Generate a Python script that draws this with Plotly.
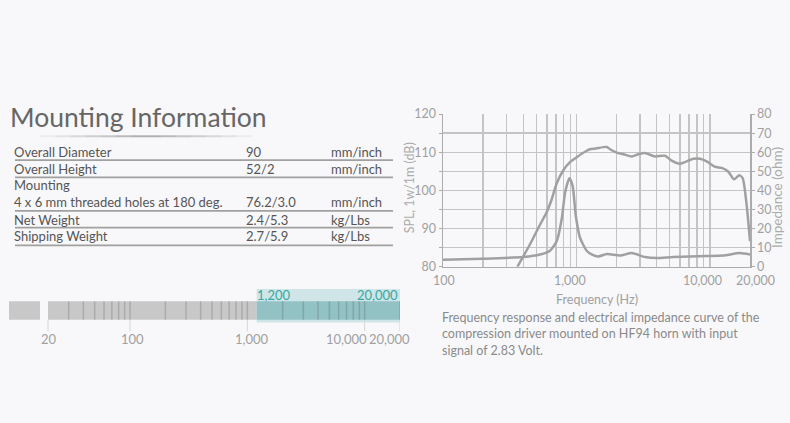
import math
import plotly.graph_objects as go

# ---------------- data ----------------
spec_labels = ["Overall Diameter", "Overall Height", "Mounting",
               "4 x 6 mm threaded holes at 180 deg.", "Net Weight", "Shipping Weight"]
spec_values = ["90", "52/2", "", "76.2/3.0", "2.4/5.3", "2.7/5.9"]
spec_units = ["mm/inch", "mm/inch", "", "mm/inch", "kg/Lbs", "kg/Lbs"]
spec_underlined = [True, True, False, True, True, True]

spl_freq = [361, 449, 533, 598, 653, 712, 798, 895, 1004, 1194, 1264, 1400, 1687, 1786,
            2006, 2250, 2600, 2911, 3270, 3882, 4613, 5179, 5980, 7520, 8446, 9475,
            10940, 12280, 13770, 15180, 16640, 17640, 18900, 20000]
spl_db = [80.0, 85.9, 91.0, 94.3, 97.7, 101.9, 105.3, 107.4, 108.7, 110.4, 110.8, 111.0, 111.4, 110.8,
          109.9, 109.5, 108.9, 109.5, 109.8, 108.9, 109.1, 107.8, 107.0, 108.3, 108.3, 107.6,
          106.2, 105.9, 104.9, 102.9, 104.0, 103.2, 96.0, 86.7]

imp_freq = [100, 200, 400, 533, 634, 712, 777, 822, 886, 938, 988, 1064, 1194, 1300,
            1460, 1687, 2130, 2600, 3270, 4000, 5300, 9475, 12600, 16800, 20000]
imp_ohm = [3.7, 4.2, 5.1, 6.4, 8.4, 13.5, 25.3, 38.8, 46.4, 42.2, 27.0, 15.2, 8.4, 6.5,
           5.4, 6.7, 5.9, 7.2, 5.1, 4.6, 5.1, 5.6, 5.9, 7.2, 6.4]

chart_grid_freqs = [100, 200, 300, 400, 500, 600, 700, 800, 900, 1000, 2000, 3000, 4000,
                    5000, 6000, 7000, 8000, 9000, 10000, 20000]
chart_xlabels_vals = [100, 1000, 10000, 20000]
chart_xlabels_text = ["100", "1,000", "10,000", "20,000"]
spl_ticks = [80, 85, 90, 95, 100, 105, 110, 115, 120]
spl_ticktext = ["80", "", "90", "", "100", "", "110", "", "120"]
imp_ticks = [0, 10, 20, 30, 40, 50, 60, 70, 80]

band_seg_start = [9.3, 20]
band_seg_end = [17.1, 20000]
band_hl_start = 1200
band_hl_end = 20000
band_hl_labels = ["1,200", "20,000"]
band_grid = [30, 40, 50, 60, 70, 80, 90, 100, 200, 300, 400, 500, 600, 700, 800, 900,
             1000, 2000, 3000, 4000, 5000, 6000, 7000, 8000, 9000, 10000, 20000]
band_label_vals = [20, 100, 1000, 10000, 20000]
band_label_text = ["20", "100", "1,000", "10,000", "20,000"]

caption_lines = ["Frequency response and electrical impedance curve of the",
                 "compression driver mounted on HF94 horn with input",
                 "signal of 2.83 Volt."]

# ---------------- layout helpers ----------------
W, H = 790, 423
BG = "#f8f8fa"
FONT = "Lato"


def px(x):
    return x / W


def py(y):
    return 1 - y / H


fig = go.Figure()

# main chart traces
fig.add_trace(go.Scatter(x=spl_freq, y=spl_db, mode="lines", xaxis="x", yaxis="y",
                         line=dict(color="#a0a0a0", width=2.5, shape="spline", smoothing=0.6),
                         hoverinfo="skip", showlegend=False))
fig.add_trace(go.Scatter(x=imp_freq, y=imp_ohm, mode="lines", xaxis="x", yaxis="y2",
                         line=dict(color="#a0a0a0", width=2.5, shape="spline", smoothing=0.6),
                         hoverinfo="skip", showlegend=False))

# band bar (bottom-left)
BAR_Y0, BAR_Y1 = 0.077, 0.629


def rect(x0, x1, y0, y1, color):
    fig.add_trace(go.Scatter(x=[x0, x1, x1, x0, x0], y=[y0, y0, y1, y1, y0], mode="lines",
                             fill="toself", fillcolor=color, line=dict(width=0),
                             xaxis="x2", yaxis="y3", hoverinfo="skip", showlegend=False))


rect(band_hl_start, band_hl_end, 0, 1, "#d0e5e7")
for s, e in zip(band_seg_start, band_seg_end):
    rect(s, min(e, band_hl_start), BAR_Y0, BAR_Y1, "#c8c8c8")
rect(band_hl_start, band_hl_end, BAR_Y0, BAR_Y1, "#93c2c4")

gx, gy = [], []
for v in band_grid:
    gx += [v, v, None]
    gy += [BAR_Y0, BAR_Y1, None]
fig.add_trace(go.Scatter(x=gx, y=gy, mode="lines", line=dict(color="rgba(70,70,70,0.22)", width=1.5),
                         xaxis="x2", yaxis="y3", hoverinfo="skip", showlegend=False))
tx, ty = [], []
for v in band_label_vals:
    tx += [v, v, None]
    ty += [BAR_Y0, -0.26, None]
fig.add_trace(go.Scatter(x=tx, y=ty, mode="lines", line=dict(color="#d6d6d6", width=1),
                         xaxis="x2", yaxis="y3", hoverinfo="skip", showlegend=False))

annotations = []
shapes = []

# title
annotations.append(dict(text="Mounting Information", x=px(8), y=py(113), xref="paper", yref="paper",
                        xanchor="left", yanchor="middle", showarrow=False,
                        font=dict(family=FONT, size=26.5, color="#666666")))
# gradient underline of title
n_seg = 14
x_start, x_end = 40, 252
for i in range(n_seg):
    t = (i + 0.5) / n_seg
    a = 0.55 * (1 - abs(2 * t - 1)) + 0.05
    shapes.append(dict(type="line", xref="paper", yref="paper",
                       x0=px(x_start + (x_end - x_start) * i / n_seg),
                       x1=px(x_start + (x_end - x_start) * (i + 1) / n_seg),
                       y0=py(133), y1=py(133),
                       line=dict(color=f"rgba(120,120,120,{a:.2f})", width=2)))

# table
row_y = [149, 167, 184, 201.3, 219.7, 236.3]
line_y = [157.7, 175.7, None, 210.3, 227.7, 246]
for lab, val, unit, ul, yc, ly in zip(spec_labels, spec_values, spec_units, spec_underlined, row_y, line_y):
    for txt, xx in ((lab, 12), (val, 244), (unit, 329)):
        if txt:
            annotations.append(dict(text=txt, x=px(xx), y=py(yc), xref="paper", yref="paper",
                                    xanchor="left", yanchor="middle", showarrow=False,
                                    font=dict(family=FONT, size=13, color="#555555")))
    if ul:
        shapes.append(dict(type="line", xref="paper", yref="paper", x0=px(15), x1=px(393),
                           y0=py(ly), y1=py(ly), line=dict(color="#a0a0a0", width=1.8)))

# band labels
band_shifts = [1, 2.5, 5, -18, -11]
for v, t, s in zip(band_label_vals, band_label_text, band_shifts):
    annotations.append(dict(text=t, x=math.log10(v), y=py(343), xref="x2", yref="paper",
                            xanchor="center", yanchor="middle", xshift=s, showarrow=False,
                            font=dict(family=FONT, size=13, color="#a0a0a0")))
annotations.append(dict(text=band_hl_labels[0], x=math.log10(band_hl_start), y=py(297.5), xref="x2",
                        yref="paper", xanchor="left", yanchor="middle", xshift=-1.5, showarrow=False,
                        font=dict(family=FONT, size=13, color="#35a8a2")))
annotations.append(dict(text=band_hl_labels[1], x=math.log10(band_hl_end), y=py(297.5), xref="x2",
                        yref="paper", xanchor="right", yanchor="middle", xshift=-0.5, showarrow=False,
                        font=dict(family=FONT, size=13, color="#35a8a2")))

# chart x labels
chart_shifts = [1, -6, -7, 5]
for v, t, s in zip(chart_xlabels_vals, chart_xlabels_text, chart_shifts):
    annotations.append(dict(text=t, x=math.log10(v), y=py(282.5), xref="x", yref="paper",
                            xanchor="center", yanchor="middle", xshift=s, showarrow=False,
                            font=dict(family=FONT, size=12.5, color="#a0a0a0")))
annotations.append(dict(text="Frequency (Hz)", x=px(596.5), y=py(302), xref="paper", yref="paper",
                        xanchor="center", yanchor="middle", showarrow=False,
                        font=dict(family=FONT, size=12.5, color="#a0a0a0")))
annotations.append(dict(text="SPL, 1w/1m (dB)", x=px(409), y=py(187), xref="paper", yref="paper",
                        xanchor="center", yanchor="middle", textangle=-90, showarrow=False,
                        font=dict(family=FONT, size=12.5, color="#ababab")))
annotations.append(dict(text="Impedance (ohm)", x=px(777), y=py(197), xref="paper", yref="paper",
                        xanchor="center", yanchor="middle", textangle=-90, showarrow=False,
                        font=dict(family=FONT, size=13.5, color="#ababab")))
annotations.append(dict(text="<br>".join(caption_lines), x=px(440), y=py(337.5), xref="paper", yref="paper",
                        xanchor="left", yanchor="middle", align="left", showarrow=False,
                        font=dict(family=FONT, size=12.5, color="#8a8a8a")))

GRID = "#c4c4c4"
AX = "#acacac"
TICKFONT = dict(family=FONT, size=12.5, color="#a0a0a0")

fig.update_layout(
    width=W, height=H, autosize=False,
    margin=dict(l=0, r=0, t=0, b=0),
    paper_bgcolor=BG, plot_bgcolor=BG,
    showlegend=False,
    xaxis=dict(type="log", range=[2, math.log10(20000)], domain=[px(443), px(750)], anchor="y",
               tickmode="array", tickvals=chart_grid_freqs, showticklabels=False,
               showgrid=True, gridcolor=GRID, gridwidth=1.5, showline=True, linecolor=AX,
               linewidth=1.5, ticks="", zeroline=False, fixedrange=True),
    yaxis=dict(range=[80, 120], domain=[py(268.3), py(110)], anchor="x",
               tickmode="array", tickvals=spl_ticks, ticktext=spl_ticktext,
               showgrid=True, gridcolor=GRID, gridwidth=1.5, showline=True, linecolor=AX,
               linewidth=1.5, ticks="outside", ticklen=3, tickcolor=AX, tickfont=TICKFONT,
               zeroline=False, fixedrange=True),
    yaxis2=dict(range=[0, 80], overlaying="y", side="right", anchor="x",
                tickmode="array", tickvals=imp_ticks, showgrid=False, showline=True,
                linecolor=AX, linewidth=1.5, ticks="outside", ticklen=3, tickcolor=AX,
                tickfont=TICKFONT, zeroline=False, fixedrange=True),
    xaxis2=dict(type="log", range=[math.log10(9.3), math.log10(20000)], domain=[px(9), px(400)],
                anchor="y3", showgrid=False, showticklabels=False, showline=False, ticks="",
                zeroline=False, fixedrange=True),
    yaxis3=dict(range=[-0.3, 1], domain=[py(336.5), py(291)], anchor="x2", visible=False,
                fixedrange=True),
    annotations=annotations,
    shapes=shapes,
)

fig.write_html("out.html", config={"displayModeBar": False, "staticPlot": True},
               post_script="document.body.style.margin='0';document.body.style.padding='0';"
                           "document.body.style.overflow='hidden';"
                           "document.body.style.background='" + BG + "';")
